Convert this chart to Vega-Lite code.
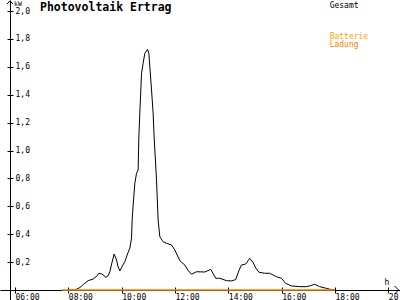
{
  "$schema": "https://vega.github.io/schema/vega-lite/v6.json",
  "width": 400,
  "height": 300,
  "autosize": {"type": "none"},
  "padding": 0,
  "background": "white",
  "config": {"view": {"stroke": null}},
  "title": {
    "text": "Photovoltaik Ertrag",
    "anchor": "start",
    "frame": "group",
    "orient": "top",
    "offset": -15,
    "dx": 40,
    "font": "DejaVu Sans Mono",
    "fontSize": 11.5,
    "fontWeight": "bold",
    "color": "black"
  },
  "datasets": {
    "gesamt": [
      {"t": 8.0, "kw": 0},
      {"t": 8.247, "kw": 0},
      {"t": 8.435, "kw": 0.018},
      {"t": 8.584, "kw": 0.043},
      {"t": 8.745, "kw": 0.067},
      {"t": 8.933, "kw": 0.079},
      {"t": 9.071, "kw": 0.1},
      {"t": 9.146, "kw": 0.12},
      {"t": 9.258, "kw": 0.115},
      {"t": 9.408, "kw": 0.091},
      {"t": 9.483, "kw": 0.1},
      {"t": 9.558, "kw": 0.131},
      {"t": 9.633, "kw": 0.194},
      {"t": 9.719, "kw": 0.258},
      {"t": 9.809, "kw": 0.215},
      {"t": 9.857, "kw": 0.172},
      {"t": 9.932, "kw": 0.136},
      {"t": 10.045, "kw": 0.179},
      {"t": 10.12, "kw": 0.203},
      {"t": 10.232, "kw": 0.265},
      {"t": 10.307, "kw": 0.301},
      {"t": 10.371, "kw": 0.373},
      {"t": 10.393, "kw": 0.502},
      {"t": 10.431, "kw": 0.609},
      {"t": 10.494, "kw": 0.765},
      {"t": 10.558, "kw": 0.837},
      {"t": 10.618, "kw": 0.86},
      {"t": 10.644, "kw": 1.097},
      {"t": 10.682, "kw": 1.276},
      {"t": 10.719, "kw": 1.434},
      {"t": 10.745, "kw": 1.553},
      {"t": 10.805, "kw": 1.625},
      {"t": 10.869, "kw": 1.697},
      {"t": 10.97, "kw": 1.725},
      {"t": 11.019, "kw": 1.697},
      {"t": 11.056, "kw": 1.601},
      {"t": 11.12, "kw": 1.434},
      {"t": 11.18, "kw": 1.267},
      {"t": 11.217, "kw": 1.097},
      {"t": 11.307, "kw": 0.789},
      {"t": 11.367, "kw": 0.502},
      {"t": 11.431, "kw": 0.382},
      {"t": 11.554, "kw": 0.346},
      {"t": 11.681, "kw": 0.335},
      {"t": 11.869, "kw": 0.323},
      {"t": 11.992, "kw": 0.287},
      {"t": 12.18, "kw": 0.21},
      {"t": 12.367, "kw": 0.179},
      {"t": 12.479, "kw": 0.143},
      {"t": 12.618, "kw": 0.113},
      {"t": 12.805, "kw": 0.131},
      {"t": 13.116, "kw": 0.129},
      {"t": 13.341, "kw": 0.148},
      {"t": 13.528, "kw": 0.084},
      {"t": 13.678, "kw": 0.084},
      {"t": 13.929, "kw": 0.067},
      {"t": 14.127, "kw": 0.065},
      {"t": 14.277, "kw": 0.075},
      {"t": 14.389, "kw": 0.136},
      {"t": 14.49, "kw": 0.179},
      {"t": 14.651, "kw": 0.186},
      {"t": 14.801, "kw": 0.227},
      {"t": 14.925, "kw": 0.199},
      {"t": 15.026, "kw": 0.158},
      {"t": 15.15, "kw": 0.127},
      {"t": 15.363, "kw": 0.12},
      {"t": 15.55, "kw": 0.12},
      {"t": 15.801, "kw": 0.095},
      {"t": 15.989, "kw": 0.084},
      {"t": 16.15, "kw": 0.048},
      {"t": 16.363, "kw": 0.029},
      {"t": 16.674, "kw": 0.024},
      {"t": 16.925, "kw": 0.024},
      {"t": 17.049, "kw": 0.029},
      {"t": 17.236, "kw": 0.041},
      {"t": 17.423, "kw": 0.024},
      {"t": 17.674, "kw": 0.012},
      {"t": 17.835, "kw": 0.004},
      {"t": 17.985, "kw": 0}
    ],
    "ladung": [
      {"t": 7.75, "kw": 0},
      {"t": 10.0, "kw": 0},
      {"t": 12.0, "kw": 0},
      {"t": 14.0, "kw": 0},
      {"t": 16.0, "kw": 0},
      {"t": 18.0, "kw": 0}
    ]
  },
  "layer": [
    {
      "data": {"name": "gesamt"},
      "mark": {"type": "line", "color": "black", "strokeWidth": 1},
      "encoding": {
        "x": {
          "field": "t", "type": "quantitative",
          "scale": {"domain": [5.4382, 20.4363], "nice": false, "zero": false},
          "axis": {
            "orient": "bottom", "offset": -10, "grid": false,
            "values": [6, 8, 10, 12, 14, 16, 18, 20],
            "labelExpr": "(datum.value < 10 ? '0' : '') + datum.value + ':00'",
            "domainColor": "black", "domainWidth": 1,
            "tickColor": "black", "tickWidth": 1, "tickSize": 3,
            "labelFont": "DejaVu Sans Mono", "labelFontSize": 8, "labelColor": "black",
            "labelAlign": "left", "labelDx": -3.5,
            "labelPadding": 0, "labelOverlap": false, "labelFlush": false, "labelBound": false,
            "title": "h", "titleX": 386.5, "titleY": -6, "titleAlign": "center",
            "titleBaseline": "alphabetic", "titleFont": "DejaVu Sans Mono",
            "titleFontSize": 8, "titleFontWeight": "normal", "titleColor": "black"
          }
        },
        "y": {
          "field": "kw", "type": "quantitative",
          "scale": {"domain": [-0.0717, 2.0789], "nice": false, "zero": false},
          "axis": {
            "orient": "left", "offset": -10, "grid": false,
            "values": [0.2, 0.4, 0.6, 0.8, 1.0, 1.2, 1.4, 1.6, 1.8, 2.0],
            "labelExpr": "replace(format(datum.value, '.1f'), '.', ',')",
            "domainColor": "black", "domainWidth": 1,
            "tickColor": "black", "tickWidth": 1, "tickSize": 3,
            "labelFont": "DejaVu Sans Mono", "labelFontSize": 8, "labelColor": "black",
            "labelAlign": "left", "labelBaseline": "middle", "labelPadding": -8,
            "labelOverlap": false, "labelFlush": false, "labelBound": false,
            "title": "kW", "titleAngle": 0, "titleX": 3.5, "titleY": 5.5,
            "titleAlign": "left", "titleBaseline": "alphabetic",
            "titleFont": "DejaVu Sans Mono", "titleFontSize": 6.5,
            "titleFontWeight": "normal", "titleColor": "black"
          }
        }
      }
    },
    {
      "data": {"name": "ladung"},
      "mark": {"type": "line", "color": "#FF8000", "strokeWidth": 1.5},
      "encoding": {
        "x": {
          "field": "t", "type": "quantitative",
          "axis": {
            "orient": "bottom", "offset": -10, "grid": false, "domain": false,
            "labels": false, "title": null,
            "values": [6, 8, 10, 12, 14, 16, 18, 20],
            "tickColor": "black", "tickWidth": 1, "tickSize": -3
          }
        },
        "y": {
          "field": "kw", "type": "quantitative",
          "axis": {
            "orient": "left", "offset": -10, "grid": false, "domain": false,
            "labels": false, "title": null,
            "values": [0.2, 0.4, 0.6, 0.8, 1.0, 1.2, 1.4, 1.6, 1.8, 2.0],
            "tickColor": "black", "tickWidth": 1, "tickSize": -3
          }
        }
      }
    },
    {
      "data": {"values": [{}]},
      "mark": {"type": "point", "shape": "M-1,0.5L0,-0.5L1,0.5", "size": 36, "filled": false, "stroke": "black", "strokeWidth": 1, "opacity": 1},
      "encoding": {
        "x": {"datum": 5.8127, "type": "quantitative", "axis": null},
        "y": {"datum": 2.061, "type": "quantitative", "axis": null}
      }
    },
    {
      "data": {"values": [{}]},
      "mark": {"type": "point", "shape": "M-0.5,-1L0.5,0L-0.5,1", "size": 64, "filled": false, "stroke": "black", "strokeWidth": 1, "opacity": 1},
      "encoding": {
        "x": {"datum": 20.307, "type": "quantitative", "axis": null},
        "y": {"datum": 0, "type": "quantitative", "axis": null}
      }
    },
    {
      "data": {"values": [{}]},
      "mark": {"type": "text", "text": "Gesamt", "align": "left", "baseline": "alphabetic", "font": "DejaVu Sans Mono", "fontSize": 8, "color": "black"},
      "encoding": {
        "x": {"datum": 17.798, "type": "quantitative", "axis": null},
        "y": {"datum": 2.025, "type": "quantitative", "axis": null}
      }
    },
    {
      "data": {"values": [{}]},
      "mark": {"type": "text", "text": "Batterie", "align": "left", "baseline": "alphabetic", "font": "DejaVu Sans Mono", "fontSize": 8, "color": "#FFA500"},
      "encoding": {
        "x": {"datum": 17.798, "type": "quantitative", "axis": null},
        "y": {"datum": 1.799, "type": "quantitative", "axis": null}
      }
    },
    {
      "data": {"values": [{}]},
      "mark": {"type": "text", "text": "Ladung", "align": "left", "baseline": "alphabetic", "font": "DejaVu Sans Mono", "fontSize": 8, "color": "#FF8000"},
      "encoding": {
        "x": {"datum": 17.798, "type": "quantitative", "axis": null},
        "y": {"datum": 1.742, "type": "quantitative", "axis": null}
      }
    }
  ],
  "resolve": {"axis": {"x": "independent", "y": "independent"}}
}
